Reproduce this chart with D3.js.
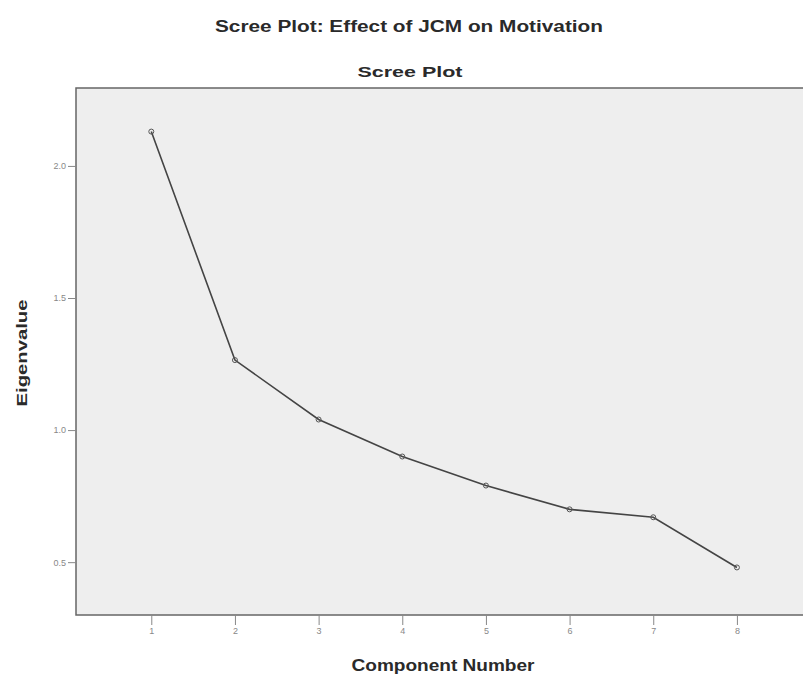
<!DOCTYPE html>
<html><head><meta charset="utf-8">
<script src="https://cdn.jsdelivr.net/npm/d3@7"></script>
<style>body{margin:0;background:#fff;}svg{display:block;font-family:"Liberation Sans",Arial,sans-serif;}</style>
</head><body>
<svg id="c" width="803" height="675"></svg>
<script>
const components = [1, 2, 3, 4, 5, 6, 7, 8];
const eigenvalues = [2.13, 1.265, 1.04, 0.90, 0.79, 0.70, 0.67, 0.48];
const yTicks = [0.5, 1.0, 1.5, 2.0];
const xTicks = [1, 2, 3, 4, 5, 6, 7, 8];

const svg = d3.select("#c");
const L = 76, T = 88, R = 803, B = 615;
const x = d3.scaleLinear().domain([0.1, 8.79]).range([L, R]);
const y = d3.scaleLinear().domain([0.3, 2.295]).range([B, T]);

svg.append("text").attr("x", 409).attr("y", 32).attr("text-anchor", "middle")
  .attr("font-size", 16).attr("font-weight", "bold").attr("fill", "#2a2a2a")
  .attr("textLength", 388).attr("lengthAdjust", "spacingAndGlyphs")
  .text("Scree Plot: Effect of JCM on Motivation");
svg.append("text").attr("x", 410).attr("y", 77).attr("text-anchor", "middle")
  .attr("font-size", 15).attr("font-weight", "bold").attr("fill", "#2a2a2a")
  .attr("textLength", 105).attr("lengthAdjust", "spacingAndGlyphs")
  .text("Scree Plot");

svg.append("rect").attr("x", L).attr("y", T).attr("width", R - L + 2).attr("height", B - T)
  .attr("fill", "#eeeeee").attr("stroke", "#666").attr("stroke-width", 1.5);

const yAxis = d3.axisLeft(y).tickValues(yTicks).tickFormat(d3.format(".1f")).tickSize(8).tickPadding(2);
const gy = svg.append("g").attr("transform", `translate(${L},0)`).call(yAxis);
gy.select(".domain").remove();
gy.selectAll("line").attr("stroke", "#888");
gy.selectAll("text").attr("font-size", 9).attr("fill", "#888").attr("font-family", "Liberation Sans, Arial, sans-serif");

const xAxis = d3.axisBottom(x).tickValues(xTicks).tickFormat(d3.format("d")).tickSize(10).tickPadding(3);
const gx = svg.append("g").attr("transform", `translate(0,${B})`).call(xAxis);
gx.select(".domain").remove();
gx.selectAll("line").attr("stroke", "#888");
gx.selectAll("text").attr("font-size", 9).attr("fill", "#888").attr("font-family", "Liberation Sans, Arial, sans-serif");

svg.append("text").attr("transform", "translate(27,353) rotate(-90)").attr("text-anchor", "middle")
  .attr("font-size", 15).attr("font-weight", "bold").attr("fill", "#2a2a2a")
  .attr("textLength", 107).attr("lengthAdjust", "spacingAndGlyphs").text("Eigenvalue");
svg.append("text").attr("x", 443).attr("y", 671).attr("text-anchor", "middle")
  .attr("font-size", 16).attr("font-weight", "bold").attr("fill", "#2a2a2a")
  .attr("textLength", 183).attr("lengthAdjust", "spacingAndGlyphs").text("Component Number");

const data = components.map((c, i) => ({c, v: eigenvalues[i]}));
svg.append("path").datum(data)
  .attr("d", d3.line().x(d => x(d.c)).y(d => y(d.v)))
  .attr("fill", "none").attr("stroke", "#444").attr("stroke-width", 1.6);
svg.selectAll("circle.pt").data(data).join("circle").attr("class", "pt")
  .attr("cx", d => x(d.c)).attr("cy", d => y(d.v)).attr("r", 2.5)
  .attr("fill", "none").attr("stroke", "#555").attr("stroke-width", 1);
</script>
</body></html>
